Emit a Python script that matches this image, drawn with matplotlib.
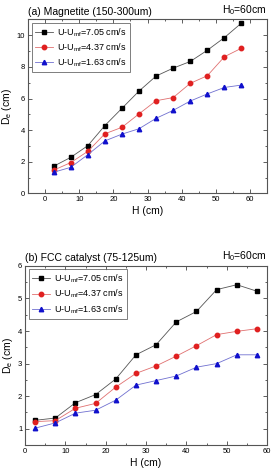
import numpy as np
import matplotlib.pyplot as plt
from matplotlib.ticker import MultipleLocator

plt.rcParams['font.family'] = ['Liberation Sans', 'DejaVu Sans']
plt.rcParams['mathtext.default'] = 'regular'

# data
H = [2.5, 7.5, 12.5, 17.5, 22.5, 27.5, 32.5, 37.5, 42.5, 47.5, 52.5, 57.5]
labels = ['U-U$_{mf}$=7.05 cm/s', 'U-U$_{mf}$=4.37 cm/s', 'U-U$_{mf}$=1.63 cm/s']

mag_705 = [1.72, 2.28, 3.02, 4.29, 5.38, 6.47, 7.42, 7.92, 8.34, 9.05, 9.85, 10.77]
mag_437 = [1.47, 1.95, 2.66, 3.77, 4.18, 5.03, 5.86, 6.06, 6.96, 7.44, 8.64, 9.18]
mag_163 = [1.34, 1.65, 2.45, 3.32, 3.75, 4.09, 4.75, 5.25, 5.84, 6.29, 6.70, 6.85]

fcc_705 = [1.26, 1.33, 1.80, 2.05, 2.53, 3.27, 3.58, 4.28, 4.60, 5.27, 5.42, 5.22]
fcc_437 = [1.22, 1.25, 1.63, 1.78, 2.28, 2.70, 2.93, 3.23, 3.55, 3.89, 3.99, 4.07]
fcc_163 = [1.02, 1.18, 1.48, 1.57, 1.88, 2.34, 2.48, 2.62, 2.89, 3.00, 3.27, 3.27]

fig = plt.figure(figsize=(2.72, 4.73), dpi=100)
ax1 = fig.add_axes([0.103, 0.591, 0.879, 0.368])
ax2 = fig.add_axes([0.092, 0.059, 0.890, 0.379])

styles = [('#000000', 's', '#555555'), ('#e02020', 'o', '#e07070'), ('#1010cc', '^', '#7070d0')]

def draw(ax, series, title):
    for ys, lab, (c, m, lc) in zip(series, labels, styles):
        ax.plot(H, ys, color=lc, lw=0.6, marker=m, ms=3.2, mfc=c, mec=c, label=lab)
    ax.text(0.0, 1.015, title, transform=ax.transAxes, fontsize=7.5, ha='left', va='bottom')
    ax.text(1.0, 1.015, 'H$_0$=60cm', transform=ax.transAxes, fontsize=7.5, ha='right', va='bottom')
    ax.set_xlabel('H (cm)', fontsize=7.5, labelpad=2)
    ax.set_ylabel('D$_e$ (cm)', fontsize=7.5, labelpad=2)
    ax.xaxis.set_major_locator(MultipleLocator(10))
    ax.xaxis.set_minor_locator(MultipleLocator(5))
    ax.tick_params(which='both', direction='in', top=True, right=True, labelsize=5.5,
                   width=0.6, color='#444444', pad=2)
    ax.tick_params(which='major', length=3)
    ax.tick_params(which='minor', length=1.6)
    for s in ax.spines.values():
        s.set_color('#555555')
        s.set_linewidth(0.8)
    leg = ax.legend(loc='upper left', fontsize=6.5, frameon=True, fancybox=False,
                    handlelength=2.0, handletextpad=0.5, borderpad=0.35,
                    labelspacing=0.3, borderaxespad=0.4)
    leg.get_frame().set_edgecolor('#444444')
    leg.get_frame().set_linewidth(0.6)

draw(ax1, [mag_705, mag_437, mag_163], '(a) Magnetite (150-300um)')
ax1.set_xlim(-5, 65)
ax1.set_ylim(0, 11)
ax1.yaxis.set_major_locator(MultipleLocator(2))
ax1.yaxis.set_minor_locator(MultipleLocator(1))

draw(ax2, [fcc_705, fcc_437, fcc_163], '(b) FCC catalyst (75-125um)')
ax2.set_xlim(0, 60)
ax2.set_ylim(0.5, 6)
ax2.yaxis.set_major_locator(MultipleLocator(1))
ax2.yaxis.set_minor_locator(MultipleLocator(0.5))

plt.savefig('out.png', dpi=100)
